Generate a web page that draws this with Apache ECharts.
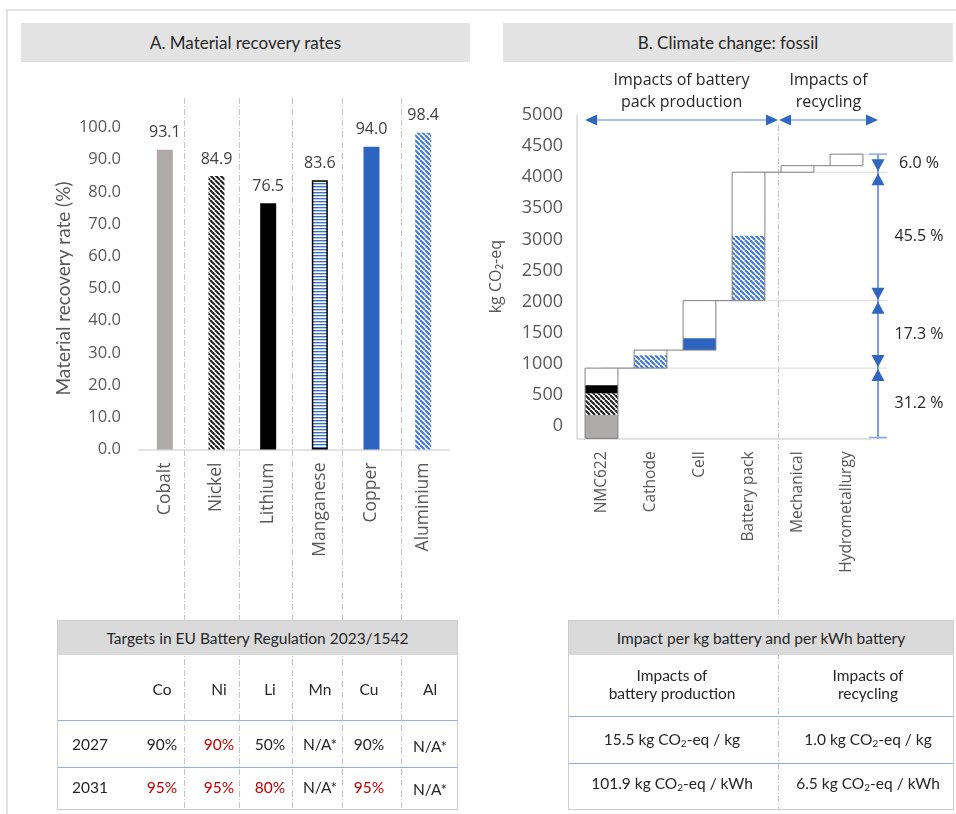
<!DOCTYPE html>
<html>
<head>
<meta charset="utf-8">
<script src="https://cdn.jsdelivr.net/npm/echarts@6/dist/echarts.min.js"></script>
<style>
  html, body { margin: 0; padding: 0; background: #fff; width: 956px; height: 814px; overflow: hidden;
    font-family: 'Lato', 'Open Sans', sans-serif; color: #262626; }
  #frame { position: absolute; left: 6px; top: 9px; width: 1000px; height: 900px; border: 2px solid #e2e2e2; }
  .vline { position: absolute; width: 1px;
    background-image: repeating-linear-gradient(to bottom, #c4c4c4 0, #c4c4c4 6px, transparent 6px, transparent 8px,
      #c4c4c4 8px, #c4c4c4 9px, transparent 9px, transparent 11px); }
  #chart { position: absolute; left: 0; top: 0; width: 956px; height: 814px; }
  .title { position: absolute; top: 23px; height: 39px; background: #e3e3e3; display: flex;
    align-items: center; justify-content: center; font-size: 17px; }
  .tbl { position: absolute; top: 620px; height: 190px; border: 1.5px solid #cdcdcd; box-sizing: border-box; }
  .tbl .head { position: absolute; left: 0; right: 0; top: 0; height: 34px; background: #dadada; display: flex;
    align-items: center; justify-content: center; font-size: 15.5px; }
  .cell { position: absolute; transform: translate(-50%, -50%); white-space: nowrap; font-size: 15.5px; text-align: center; line-height: 19px; }
  .cell sub { font-size: 10px; vertical-align: -2px; line-height: 0; }
  .rule { position: absolute; height: 1px; background: #8fb0e2; }
  .red { color: #c00000; }
</style>
</head>
<body>
<div id="frame"></div>
<div id="lines"></div>
<div id="chart"></div>
<div id="overlay"></div>
<script>
// ---- Panel A: material recovery rates (%) ----
const materials = ['Cobalt', 'Nickel', 'Lithium', 'Manganese', 'Copper', 'Aluminium'];
const recoveryRates = [93.1, 84.9, 76.5, 83.6, 94.0, 98.4];

// ---- Panel B: cumulative climate change (fossil), kg CO2-eq ----
const steps = ['NMC622', 'Cathode', 'Cell', 'Battery pack', 'Mechanical', 'Hydrometallurgy'];
const stepTotals = [930, 1220, 2015, 4080, 4185, 4370];
const stepFloor = -200;
// material-coloured shares at the bottom of each step
const segStep = [0, 0, 0, 1, 2, 3];
const segTop = [175, 525, 655, 1135, 1410, 3060];
const segKind = ['Cobalt', 'Nickel', 'Lithium', 'Aluminium', 'Copper', 'Aluminium'];
// share brackets on the right
const shareLabels = ['31.2 %', '17.3 %', '45.5 %', '6.0 %'];
const shareEndStep = [0, 2, 3, 5];
// phase arrows above the steps
const phaseLabels = ['Impacts of battery\npack production', 'Impacts of\nrecycling'];
const phaseSteps = [[0, 3], [4, 5]];

// ---- Tables ----
const targetsTitle = 'Targets in EU Battery Regulation 2023/1542';
const targetCols = ['Co', 'Ni', 'Li', 'Mn', 'Cu', 'Al'];
const targetYears = ['2027', '2031'];
const targets2027 = ['90%', '90%', '50%', 'N/A*', '90%', 'N/A*'];
const targets2031 = ['95%', '95%', '80%', 'N/A*', '95%', 'N/A*'];
const raised2027 = [false, true, false, false, false, false];
const raised2031 = [true, true, true, false, true, false];

const impactTitle = 'Impact per kg battery and per kWh battery';
const impactCols = ['Impacts of<br>battery production', 'Impacts of<br>recycling'];
const impactPerKg = ['15.5', '1.0'];
const impactPerKWh = ['101.9', '6.5'];

// ---- layout ----
const DIVIDER_X = 778;
const colLinesA = [184, 239, 292, 342, 401];
const FONT = "'Open Sans', sans-serif";
const TICK = '#595959';

// fill patterns
function diag(fg, bg, size, w) {
  const c = document.createElement('canvas');
  c.width = c.height = size;
  const g = c.getContext('2d');
  g.fillStyle = bg; g.fillRect(0, 0, size, size);
  g.strokeStyle = fg; g.lineWidth = w;
  for (const o of [-size, 0, size]) { g.beginPath(); g.moveTo(o, 0); g.lineTo(o + size, size); g.stroke(); }
  return { image: c, repeat: 'repeat' };
}
function hstripes() {
  const c = document.createElement('canvas');
  c.width = 4; c.height = 3;
  const g = c.getContext('2d');
  g.fillStyle = '#ffffff'; g.fillRect(0, 0, 4, 3);
  g.fillStyle = '#3a70c6'; g.fillRect(0, 0, 4, 1);
  g.fillStyle = '#b9cdee'; g.fillRect(0, 1, 4, 1);
  return { image: c, repeat: 'repeat' };
}
const fills = {
  Cobalt: '#aeaaaa',
  Nickel: diag('#1e1e1e', '#ffffff', 5, 2),
  Lithium: '#000000',
  Manganese: hstripes(),
  Copper: '#2c64bf',
  Aluminium: diag('#3f77cf', '#ffffff', 5, 2)
};

// ---- dashed column dividers ----
const linesEl = document.getElementById('lines');
colLinesA.forEach(x => {
  const d = document.createElement('div');
  d.className = 'vline';
  d.style.cssText = `left:${x}px;top:98px;height:712px;`;
  linesEl.appendChild(d);
});
{
  const d = document.createElement('div');
  d.className = 'vline';
  d.style.cssText = `left:${DIVIDER_X}px;top:125px;height:685px;`;
  linesEl.appendChild(d);
}

// ---- titles and tables ----
const ov = document.getElementById('overlay');
function add(html, cls, css) {
  const d = document.createElement('div');
  d.className = cls; d.style.cssText = css; d.innerHTML = html;
  ov.appendChild(d); return d;
}
add('A. Material recovery rates', 'title', 'left:21px;width:449px;');
add('B. Climate change: fossil', 'title', 'left:503px;width:450px;');

add(`<div class="head">${targetsTitle}</div>`, 'tbl', 'left:57px;width:401px;');
add(`<div class="head">${impactTitle}</div>`, 'tbl', 'left:568px;width:386px;');

const colX = [162, 219, 270, 320, 369, 430];
targetCols.forEach((c, i) => add(c, 'cell', `left:${colX[i]}px;top:689px;`));
add('', 'rule', 'left:58px;width:399px;top:720px;');
add('', 'rule', 'left:58px;width:399px;top:767px;');
[targets2027, targets2031].forEach((row, r) => {
  const y = [744, 787][r];
  const raised = [raised2027, raised2031][r];
  add(targetYears[r], 'cell', `left:90px;top:${y}px;`);
  row.forEach((v, i) => add(v, 'cell' + (raised[i] ? ' red' : ''),
    `left:${colX[i]}px;top:${y + (v.startsWith('N') && i === 5 ? 2 : 0)}px;`));
});

const impX = [672, 868];
impactCols.forEach((c, i) => add(c, 'cell', `left:${impX[i]}px;top:684px;line-height:18px;`));
add('', 'rule', 'left:569px;width:384px;top:716px;');
add('', 'rule', 'left:569px;width:384px;top:763px;');
impactPerKg.forEach((v, i) => add(`${v} kg CO<sub>2</sub>-eq / kg`, 'cell', `left:${impX[i]}px;top:739px;`));
impactPerKWh.forEach((v, i) => add(`${v} kg CO<sub>2</sub>-eq / kWh`, 'cell', `left:${impX[i]}px;top:783px;`));

// ---- chart ----
const chart = echarts.init(document.getElementById('chart'), null, { renderer: 'canvas' });
const BOX_RATIO = 0.67;

function renderStep(params, api) {
  const i = api.value(0), lo = api.value(1), hi = api.value(2);
  const bw = api.size([1, 0])[0] * BOX_RATIO;
  const pLo = api.coord([i, lo]), yHi = api.coord([i, hi])[1];
  const x = pLo[0] - bw / 2, yLo = pLo[1];
  const children = [];
  if (i < steps.length - 1) {
    const nx = api.coord([i + 1, hi])[0] - bw / 2;
    children.push({ type: 'line', shape: { x1: x + bw, y1: yHi, x2: nx, y2: yHi },
      style: { stroke: '#7f7f7f', lineWidth: 1 } });
  }
  children.push({ type: 'rect', shape: { x, y: yHi, width: bw, height: yLo - yHi }, style: { fill: '#fff' } });
  let base = lo;
  segStep.forEach((s, k) => {
    if (s !== i) return;
    const y0 = api.coord([i, base])[1], y1 = api.coord([i, segTop[k]])[1];
    children.push({ type: 'rect', shape: { x, y: y1, width: bw, height: y0 - y1 }, style: { fill: fills[segKind[k]] } });
    base = segTop[k];
  });
  children.push({ type: 'rect', shape: { x, y: yHi, width: bw, height: yLo - yHi },
    style: { fill: null, stroke: '#7f7f7f', lineWidth: 1 } });
  return { type: 'group', children };
}

function renderShare(params, api) {
  const k = params.dataIndex, s = api.value(0), lo = api.value(1), hi = api.value(2);
  const cs = params.coordSys;
  const bx = cs.x + cs.width + 7;
  const yLo = api.coord([s, lo])[1], yHi = api.coord([s, hi])[1];
  const cx = api.coord([s, hi])[0];
  const blue = '#2e66c0', line = '#4f82d2';
  const ch = [];
  ch.push({ type: 'line', shape: { x1: cx, y1: yHi, x2: bx + 9, y2: yHi }, style: { stroke: '#d9d9d9', lineWidth: 1 } });
  if (k === 0) {
    ch.push({ type: 'line', shape: { x1: cs.x + cs.width, y1: yLo, x2: bx + 9, y2: yLo }, style: { stroke: '#d9d9d9', lineWidth: 1.5 } });
  }
  ch.push({ type: 'line', shape: { x1: bx, y1: yLo, x2: bx, y2: yHi }, style: { stroke: line, lineWidth: 1.5 } });
  if (k === shareLabels.length - 1) {
    ch.push({ type: 'line', shape: { x1: bx - 9, y1: yHi, x2: bx + 9, y2: yHi }, style: { stroke: '#8fb0e2', lineWidth: 1.5 } });
  } else {
    ch.push({ type: 'polygon', shape: { points: [[bx, yHi + 1], [bx - 6.5, yHi + 13], [bx + 6.5, yHi + 13]] }, style: { fill: blue } });
  }
  if (k === 0) {
    ch.push({ type: 'line', shape: { x1: bx - 9, y1: yLo - 1, x2: bx + 9, y2: yLo - 1 }, style: { stroke: '#8fb0e2', lineWidth: 1.5 } });
  } else {
    ch.push({ type: 'polygon', shape: { points: [[bx, yLo - 1], [bx - 6.5, yLo - 13], [bx + 6.5, yLo - 13]] }, style: { fill: blue } });
  }
  ch.push({ type: 'text', style: { x: bx + 41, y: (yLo + yHi) / 2, text: shareLabels[k], align: 'center', verticalAlign: 'middle',
    font: `16px ${FONT}`, fill: '#262626' } });
  return { type: 'group', children: ch };
}

function renderPhase(params, api) {
  const k = params.dataIndex, a = api.value(0);
  const cs = params.coordSys;
  const bw = api.size([1, 0])[0] * BOX_RATIO;
  const y = cs.y + 5;
  const x0 = k === 0 ? api.coord([a, 0])[0] - bw / 2 : DIVIDER_X + 1;
  const x1 = k === 0 ? DIVIDER_X : cs.x + cs.width + 7;
  const blue = '#2e66c0';
  return { type: 'group', children: [
    { type: 'line', shape: { x1: x0 + 6, y1: y, x2: x1 - 6, y2: y }, style: { stroke: '#4f82d2', lineWidth: 1.2 } },
    { type: 'polygon', shape: { points: [[x0, y], [x0 + 12, y - 5.5], [x0 + 12, y + 5.5]] }, style: { fill: blue } },
    { type: 'polygon', shape: { points: [[x1, y], [x1 - 12, y - 5.5], [x1 - 12, y + 5.5]] }, style: { fill: blue } },
    { type: 'text', style: { x: (x0 + x1) / 2, y: y - 29, text: phaseLabels[k], align: 'center', verticalAlign: 'middle',
      font: `16px ${FONT}`, lineHeight: 22, fill: '#262626' } }
  ] };
}

const option = {
  animation: false,
  backgroundColor: 'transparent',
  textStyle: { fontFamily: FONT },
  grid: [
    { left: 139, top: 127.5, width: 310, height: 322, containLabel: false, outerBoundsMode: 'none' },
    { left: 577, top: 115, width: 294, height: 323.4, containLabel: false, outerBoundsMode: 'none' }
  ],
  xAxis: [
    { type: 'category', gridIndex: 0, data: materials,
      axisLine: { lineStyle: { color: '#d9d9d9', width: 1.5 } }, axisTick: { show: false },
      axisLabel: { rotate: 90, interval: 0, margin: 13, fontSize: 17.5, color: TICK, fontFamily: FONT } },
    { type: 'category', gridIndex: 1, data: steps,
      axisLine: { onZero: false, lineStyle: { color: '#d9d9d9', width: 1.5 } }, axisTick: { show: false },
      axisLabel: { rotate: 90, interval: 0, margin: 13, fontSize: 15.5, color: TICK, fontFamily: FONT } }
  ],
  yAxis: [
    { type: 'value', gridIndex: 0, min: 0, max: 100, interval: 10,
      axisLine: { show: false }, axisTick: { show: false }, splitLine: { show: false },
      axisLabel: { margin: 18, fontSize: 16.5, color: TICK, fontFamily: FONT, formatter: v => v.toFixed(1) },
      name: 'Material recovery rate (%)', nameLocation: 'middle', nameGap: 66,
      nameTextStyle: { fontSize: 19, color: TICK, fontFamily: 'Lato' } },
    { type: 'value', gridIndex: 1, min: stepFloor, max: 5000, interval: 100,
      axisLine: { show: true, lineStyle: { color: '#d9d9d9', width: 1.5 } }, axisTick: { show: false }, splitLine: { show: false },
      axisLabel: { margin: 14, fontSize: 18, color: TICK, fontFamily: FONT,
        formatter: v => (Math.round(v) >= 0 && Math.round(v) % 500 === 0) ? String(Math.round(v)) : '' },
      name: 'kg CO₂-eq', nameLocation: 'middle', nameGap: 73,
      nameTextStyle: { fontSize: 16, color: TICK, fontFamily: FONT } }
  ],
  series: [
    { type: 'bar', xAxisIndex: 0, yAxisIndex: 0, barWidth: 16,
      data: recoveryRates.map((v, i) => ({ value: v, itemStyle: {
        color: fills[materials[i]],
        borderColor: materials[i] === 'Manganese' ? '#000' : undefined,
        borderWidth: materials[i] === 'Manganese' ? 1.5 : 0 } })),
      label: { show: true, position: 'top', distance: 9, fontSize: 16, color: '#404040', fontFamily: FONT,
        formatter: p => p.value.toFixed(1) } },
    { type: 'custom', xAxisIndex: 1, yAxisIndex: 1, z: 1, renderItem: renderShare,
      encode: { x: 0, y: [1, 2] },
      data: shareLabels.map((_, k) => [shareEndStep[k],
        k === 0 ? stepFloor : stepTotals[shareEndStep[k - 1]], stepTotals[shareEndStep[k]]]) },
    { type: 'custom', xAxisIndex: 1, yAxisIndex: 1, z: 3, renderItem: renderStep,
      encode: { x: 0, y: [1, 2] },
      data: steps.map((_, i) => [i, i === 0 ? stepFloor : stepTotals[i - 1], stepTotals[i]]) },
    { type: 'custom', xAxisIndex: 1, yAxisIndex: 1, z: 3, renderItem: renderPhase,
      encode: { x: 0, y: 1 },
      data: phaseSteps.map(p => [p[0], p[1]]) }
  ]
};
chart.setOption(option);
</script>
</body>
</html>
